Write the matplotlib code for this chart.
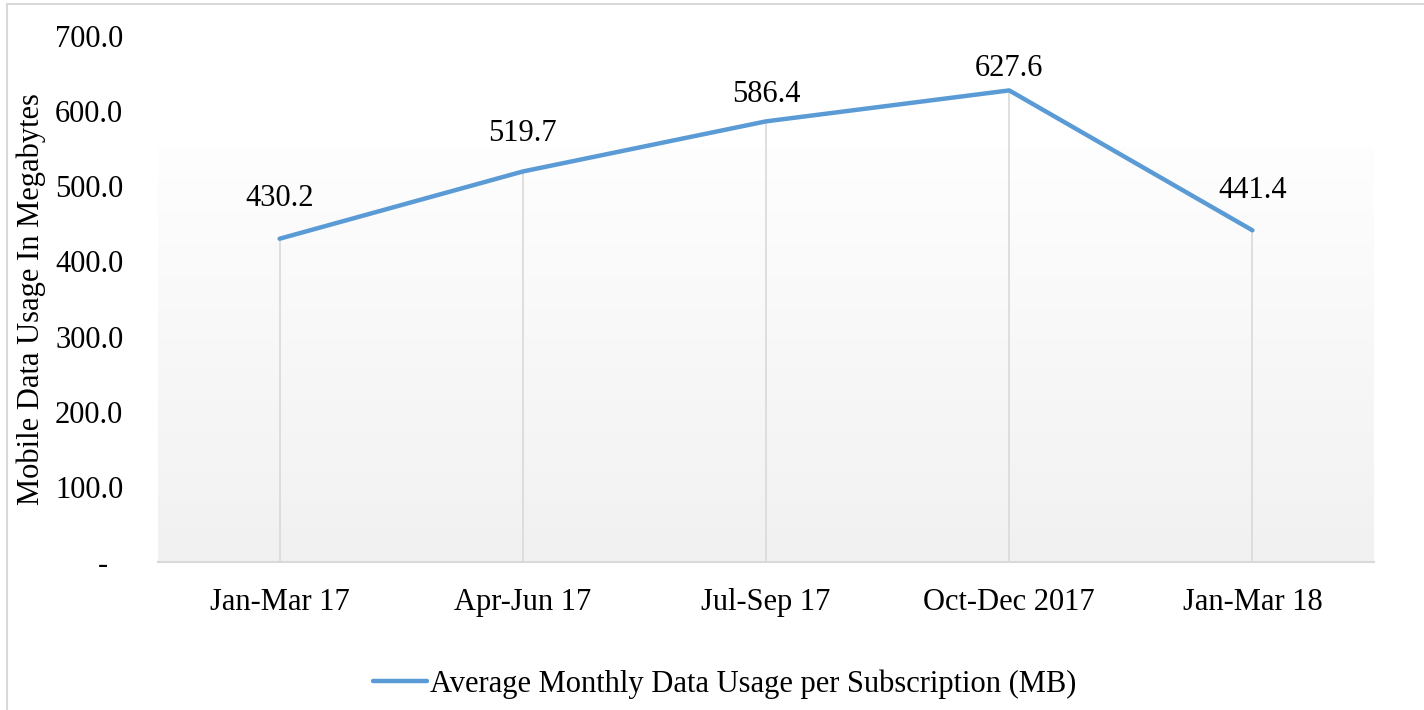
import numpy as np
import matplotlib
matplotlib.use("Agg")
import matplotlib.pyplot as plt
from matplotlib.patches import Rectangle
from matplotlib.lines import Line2D

categories = ["Jan-Mar 17", "Apr-Jun 17", "Jul-Sep 17", "Oct-Dec 2017", "Jan-Mar 18"]
usage_mb = [430.2, 519.7, 586.4, 627.6, 441.4]
y_ticks = [0, 100, 200, 300, 400, 500, 600, 700]
series_name = "Average Monthly Data Usage per Subscription (MB)"
y_label = "Mobile Data Usage In Megabytes"

# label vertical offsets in points (styling, mimics Excel placement)
label_offsets = [29, 27, 19, 16, 29]

plt.rcParams["font.family"] = ["Liberation Serif", "DejaVu Serif"]
FS = 22

fig = plt.figure(figsize=(14.24, 7.10), dpi=100)
ax = fig.add_axes([158/1424, 1-562/710, (1374-158)/1424, (562-36)/710])

x = np.arange(len(categories))

# gradient plot-area fill
grad = np.linspace(0, 1, 256).reshape(-1, 1)
cmap = matplotlib.colors.LinearSegmentedColormap.from_list("g", ["#f1f1f1", "#fefefe"])
ax.imshow(grad, cmap=cmap, origin="lower", aspect="auto",
          extent=[-0.5, len(categories)-0.5, 0, 551], zorder=0, interpolation="bilinear")
ax.set_xlim(-0.5, len(categories)-0.5)
ax.set_ylim(0, 700)

# drop lines
ax.vlines(x, 0, usage_mb, colors="#d9d9d9", linewidth=1.2, zorder=1)

ax.plot(x, usage_mb, color="#5b9bd5", linewidth=3.2, solid_capstyle="round",
        solid_joinstyle="round", zorder=3, label=series_name)

for xi, v, off in zip(x, usage_mb, label_offsets):
    ax.annotate(f"{v:.1f}", (xi, v), xytext=(0, off), textcoords="offset points",
                ha="center", va="center", fontsize=FS, color="#000000", zorder=4)

for s in ["top", "right", "left"]:
    ax.spines[s].set_visible(False)
ax.spines["bottom"].set_color("#d9d9d9")
ax.spines["bottom"].set_linewidth(1.5)
ax.spines["bottom"].set_zorder(2)

ax.set_yticks(y_ticks)
ax.set_yticklabels([("-  " if t == 0 else f"{t:.1f}") for t in y_ticks], fontsize=FS)
ax.set_xticks(x)
ax.set_xticklabels(categories, fontsize=FS)
ax.tick_params(axis="both", length=0)
ax.tick_params(axis="y", pad=25)
ax.tick_params(axis="x", pad=19)
ax.set_ylabel(y_label, fontsize=FS)
ax.yaxis.set_label_coords(-0.092, 0.5)

handle = Line2D([0], [0], color="#5b9bd5", linewidth=3.2, solid_capstyle="round")
fig.legend([handle], [series_name], loc="center", bbox_to_anchor=(0.509, 1-684/710),
           frameon=False, fontsize=FS, handlelength=1.75, handletextpad=0.1)

# outer chart frame
fig.add_artist(Rectangle((7/1424, -0.05), 1.1, 1-4/710+0.05, transform=fig.transFigure,
                         fill=False, edgecolor="#d9d9d9", linewidth=1.5))

fig.savefig("out.png", dpi=100)
